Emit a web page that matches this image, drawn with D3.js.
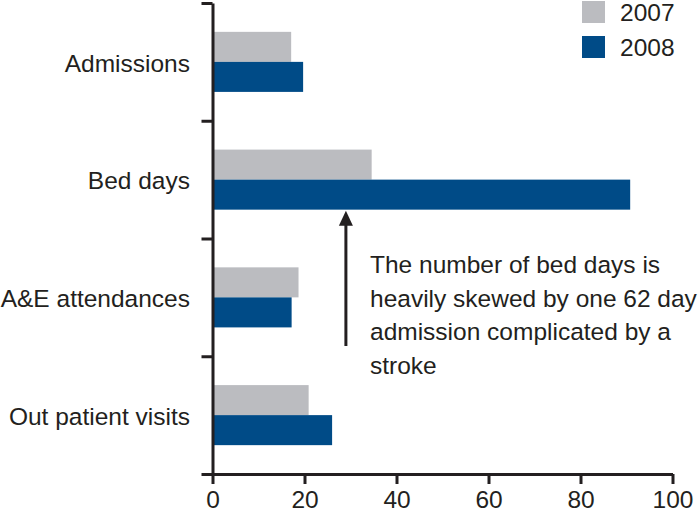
<!DOCTYPE html>
<html>
<head>
<meta charset="utf-8">
<script src="https://cdn.jsdelivr.net/npm/d3@7"></script>
<style>
  html, body { margin: 0; padding: 0; background: #fff; }
  svg { display: block; font-family: "Liberation Sans", Arial, Helvetica, sans-serif; }
</style>
</head>
<body>
<svg id="chart" width="700" height="514"></svg>
<script>
// ---- data ----
const categories = ["Admissions", "Bed days", "A&E attendances", "Out patient visits"];
const seriesNames = ["2007", "2008"];
const values2007 = [17.1, 34.6, 18.7, 20.9];
const values2008 = [19.7, 90.8, 17.2, 26.0];
const xTicks = [0, 20, 40, 60, 80, 100];
const annotationLines = [
  "The number of bed days is",
  "heavily skewed by one 62 day",
  "admission complicated by a",
  "stroke"
];
const annotationValue = 29; // x-position (in data units) of arrow
const annotationCategory = "Bed days";

// ---- styles ----
const colors = { "2007": "#bbbcc0", "2008": "#004b87" };
const ink = "#231f20";
const fontSize = 24.5;

const svg = d3.select("#chart");

const x = d3.scaleLinear().domain([0, 100]).range([212.5, 672.5]);
const y = d3.scaleBand().domain(categories).range([3, 474])
  .paddingInner(0.49).paddingOuter(0.245);
const ySub = d3.scaleBand().domain(seriesNames).range([0, y.bandwidth()]);

const rows = categories.map((c, i) => ({
  category: c,
  values: [
    { series: "2007", value: values2007[i] },
    { series: "2008", value: values2008[i] }
  ]
}));

// bars
const g = svg.append("g");
g.selectAll("g.cat").data(rows).join("g")
  .attr("class", "cat")
  .attr("transform", d => `translate(0,${y(d.category)})`)
  .selectAll("rect").data(d => d.values).join("rect")
  .attr("x", x(0))
  .attr("y", d => ySub(d.series))
  .attr("width", d => x(d.value) - x(0))
  .attr("height", ySub.bandwidth())
  .attr("fill", d => colors[d.series]);

// y axis with band boundary ticks
const yBound = d3.scaleLinear().domain([0, categories.length]).range(y.range());
const yAxis = svg.append("g")
  .attr("transform", `translate(${x(0)},0)`)
  .call(d3.axisLeft(yBound).tickValues(d3.range(categories.length + 1))
    .tickSize(11).tickSizeOuter(0).tickFormat(""));
yAxis.selectAll("path, line").attr("stroke", ink).attr("stroke-width", 3);

// category labels
svg.append("g").selectAll("text").data(categories).join("text")
  .attr("x", 190)
  .attr("y", d => y(d) + y.bandwidth() / 2 + 0.36 * fontSize + 1)
  .attr("text-anchor", "end")
  .attr("font-size", fontSize)
  .attr("fill", ink)
  .text(d => d);

// x axis
const xAxis = svg.append("g")
  .attr("transform", `translate(0,${y.range()[1]})`)
  .call(d3.axisBottom(x).tickValues(xTicks).tickSize(10).tickSizeOuter(0).tickPadding(7));
xAxis.select("path.domain").attr("stroke", ink).attr("stroke-width", 3);
xAxis.selectAll("line").attr("stroke", ink).attr("stroke-width", 3);
xAxis.selectAll("text").attr("font-size", fontSize).attr("fill", ink)
  .attr("font-family", "\"Liberation Sans\", Arial, sans-serif");

// legend
const legend = svg.append("g");
seriesNames.forEach((s, i) => {
  const ly = 1 + i * 35;
  legend.append("rect").attr("x", 582).attr("y", ly).attr("width", 23).attr("height", 22)
    .attr("fill", colors[s]);
  legend.append("text").attr("x", 620).attr("y", ly + 19.5)
    .attr("font-size", fontSize).attr("fill", ink).text(s);
});

// annotation arrow
const ax = x(annotationValue);
const tipY = y(annotationCategory) + y.bandwidth() + 1;
svg.append("line").attr("x1", ax).attr("x2", ax)
  .attr("y1", 346).attr("y2", tipY + 12)
  .attr("stroke", ink).attr("stroke-width", 3);
svg.append("path")
  .attr("d", `M${ax},${tipY} L${ax - 7},${tipY + 15} L${ax + 7},${tipY + 15} Z`)
  .attr("fill", ink);

// annotation text
svg.append("g").selectAll("text").data(annotationLines).join("text")
  .attr("x", 370)
  .attr("y", (d, i) => 273 + i * 33.5)
  .attr("font-size", fontSize)
  .attr("fill", ink)
  .text(d => d);
</script>
</body>
</html>
